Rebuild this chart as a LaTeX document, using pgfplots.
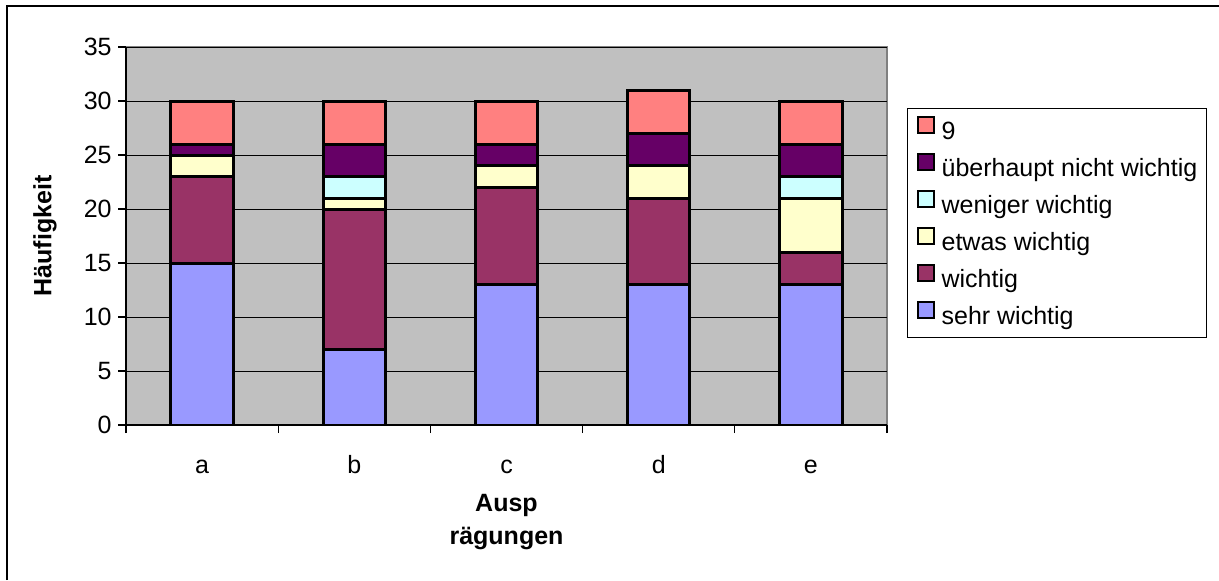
\documentclass[border=0pt]{standalone}
\usepackage{pgfplots}
\pgfplotsset{compat=1.18}
\usepackage{pgfplotstable}
\usepackage{fontspec}
\setmainfont{Liberation Sans}

\definecolor{cSehr}{HTML}{9999FF}
\definecolor{cWichtig}{HTML}{993366}
\definecolor{cEtwas}{HTML}{FFFFCC}
\definecolor{cWeniger}{HTML}{CCFFFF}
\definecolor{cUeber}{HTML}{660066}
\definecolor{cNeun}{HTML}{FF8080}
\definecolor{plotbg}{HTML}{C0C0C0}

% counts per category a..e
\pgfplotstableread{
x sehr wichtig etwas weniger ueber neun
0 15 8  2 0 1 4
1 7  13 1 2 3 4
2 13 9  2 0 2 4
3 13 8  3 0 3 4
4 13 3  5 2 3 4
}\data

\begin{document}
\begin{tikzpicture}[x=1pt,y=1pt]
\useasboundingbox (0,0) rectangle (609.5,290);
\draw[line width=0.8pt,black] (3.5,0) -- (3.5,287) -- (609.5,287);
\begin{axis}[
  at={(63pt,77.5pt)}, anchor=south west,
  scale only axis, width=380.5pt, height=189pt,
  font=\fontsize{12.5pt}{15pt}\selectfont,
  /pgf/number format/assume math mode=true,
  ybar stacked, bar width=0.41,
  xmin=-0.5, xmax=4.5, ymin=0, ymax=35,
  xtick={0,1,2,3,4}, xticklabels={a,b,c,d,e},
  minor xtick={-0.5,0.5,...,4.5},
  ytick={0,5,...,35},
  axis x line*=bottom, axis y line*=left,
  axis line style={black, line width=0.8pt},
  tick align=outside, major tick length=4pt, minor tick length=4pt,
  major x tick style={draw=none},
  minor x tick style={black, line width=0.6pt},
  major y tick style={black, line width=0.6pt},
  ymajorgrids, major grid style={black, line width=0.5pt},
  axis background/.style={fill=plotbg, draw=gray, line width=0.8pt},
  xticklabel style={anchor=base, inner sep=0pt, yshift=-20pt},
  yticklabel style={anchor=east, inner sep=0pt, xshift=-3pt},
  xlabel={Ausp\\rägungen},
  xlabel style={at={(axis description cs:0.5,0)}, anchor=north, align=center,
    inner sep=0pt, yshift=-34.5pt,
    font=\bfseries\fontsize{12.5pt}{16.5pt}\selectfont},
  ylabel={Häufigkeit},
  ylabel style={at={(axis description cs:-0.1066,0.5)}, anchor=center,
    inner sep=0pt, rotate=0, font=\bfseries\fontsize{12.5pt}{15pt}\selectfont},
  reverse legend,
  legend cell align=left,
  legend style={at={(1.0263,0.8386)}, anchor=north west,
    draw=black, line width=0.6pt, inner xsep=4.5pt, inner ysep=3.5pt,
    row sep=3.5pt,
    nodes={inner sep=0pt, text height=9pt, text depth=3pt},
    /tikz/every odd column/.style={column sep=3.5pt}},
  every axis plot/.append style={draw=black, line width=1.5pt},
]
\pgfplotsset{sq/.style={legend image code/.code={
  \draw[##1, line width=1pt, draw=black] (0pt,0.5pt) rectangle (8pt,8.5pt);}}}
\addplot[fill=cSehr, sq]    table[x=x, y=sehr]    {\data};
\addplot[fill=cWichtig, sq] table[x=x, y=wichtig] {\data};
\addplot[fill=cEtwas, sq]   table[x=x, y=etwas]   {\data};
\addplot[fill=cWeniger, sq] table[x=x, y=weniger] {\data};
\addplot[fill=cUeber, sq]   table[x=x, y=ueber]   {\data};
\addplot[fill=cNeun, sq]    table[x=x, y=neun]    {\data};
\legend{sehr wichtig, wichtig, etwas wichtig, weniger wichtig, überhaupt nicht wichtig, 9}
\end{axis}
\end{tikzpicture}
\end{document}
